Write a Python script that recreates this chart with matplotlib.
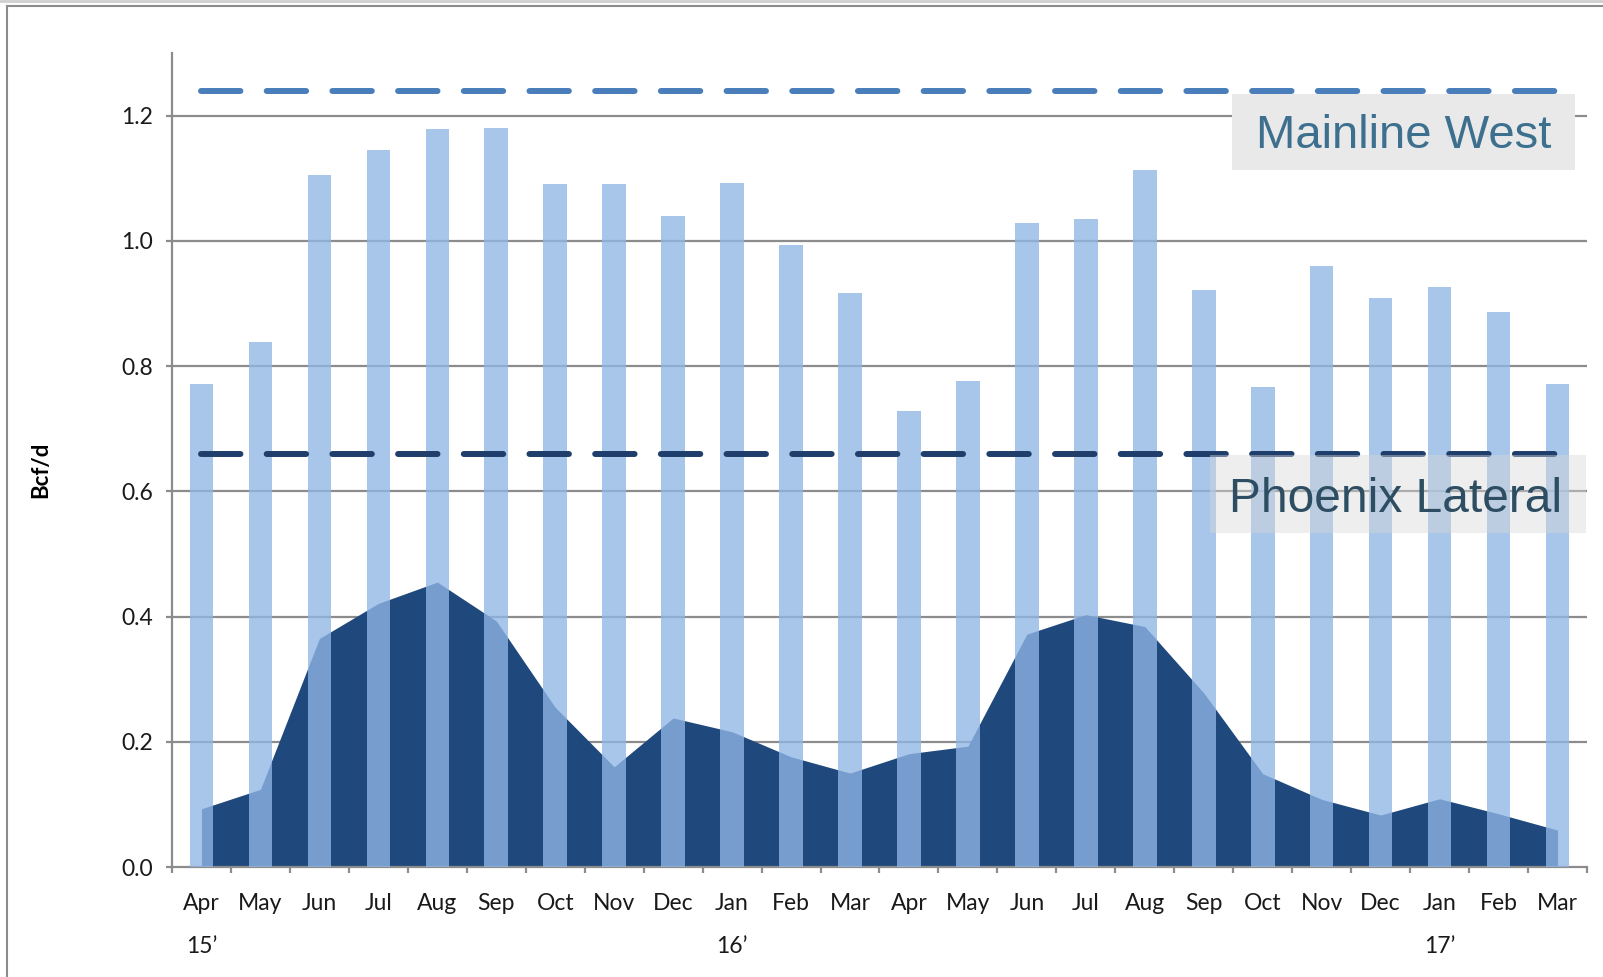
import matplotlib
matplotlib.use("Agg")
import matplotlib.pyplot as plt
import numpy as np
from matplotlib.patches import Rectangle
from matplotlib.lines import Line2D

months = ["Apr", "May", "Jun", "Jul", "Aug", "Sep", "Oct", "Nov", "Dec", "Jan", "Feb", "Mar",
          "Apr", "May", "Jun", "Jul", "Aug", "Sep", "Oct", "Nov", "Dec", "Jan", "Feb", "Mar"]
year_labels = {0: "15\u2019", 9: "16\u2019", 21: "17\u2019"}
mainline_west = [0.772, 0.838, 1.105, 1.145, 1.179, 1.180, 1.091, 1.091, 1.040, 1.092, 0.993, 0.916,
                 0.728, 0.776, 1.029, 1.035, 1.113, 0.922, 0.766, 0.960, 0.909, 0.927, 0.887, 0.772]
phoenix_lateral = [0.093, 0.124, 0.365, 0.421, 0.455, 0.393, 0.255, 0.160, 0.238, 0.216, 0.176, 0.150,
                   0.181, 0.193, 0.372, 0.403, 0.384, 0.278, 0.149, 0.108, 0.083, 0.109, 0.085, 0.059]
mainline_capacity = 1.24
phoenix_capacity = 0.66

W, H = 1603, 977
fig = plt.figure(figsize=(W / 100, H / 100), dpi=100)
ax = fig.add_axes([172 / W, 1 - 867 / H, (1587 - 172) / W, (867 - 53) / H])

x = np.arange(len(months))
gray = "#8c8c8c"

# gridlines
for yv in [0.2, 0.4, 0.6, 0.8, 1.0, 1.2]:
    ax.axhline(yv, color=gray, lw=1.6, zorder=1)

# area
ax.fill_between(x, 0, phoenix_lateral, color="#1f497d", lw=0, zorder=2)
# bars
ax.bar(x, mainline_west, width=0.4, color="#90b6e5", alpha=0.78, lw=0, zorder=3)

# capacity dashed lines
lw = 4.3
ax.plot([0, 23], [mainline_capacity] * 2, color="#4a7ebb", lw=lw,
        linestyle=(0, (6.6, 4.4)), dash_capstyle="round", zorder=4)
ax.plot([0, 23], [phoenix_capacity] * 2, color="#1f3e6b", lw=lw,
        linestyle=(0, (6.6, 4.4)), dash_capstyle="round", zorder=4)

ax.set_xlim(-0.5, 23.5)
ax.set_ylim(0, 1.3)

# spines
for s in ["top", "right"]:
    ax.spines[s].set_visible(False)
for s in ["left", "bottom"]:
    ax.spines[s].set_color(gray)
    ax.spines[s].set_linewidth(1.6)

tick_font = dict(family=["Lato", "DejaVu Sans"], size=16.5, color="#1a1a1a")
ax.set_yticks([0, 0.2, 0.4, 0.6, 0.8, 1.0, 1.2])
ax.set_yticklabels([f"{v:.1f}" for v in [0, 0.2, 0.4, 0.6, 0.8, 1.0, 1.2]], **tick_font)
ax.tick_params(axis="y", direction="out", length=4.5, width=1.6, color=gray, pad=9)

ax.set_xticks(x)
ax.set_xticklabels(months, **tick_font)
ax.tick_params(axis="x", which="major", length=0, pad=19)
ax.set_xticks(np.arange(-0.5, 24, 1), minor=True)
ax.tick_params(axis="x", which="minor", direction="out", length=4.5, width=1.6, color=gray)

for i, lab in year_labels.items():
    ax.text(i, -0.127, lab, ha="center", va="center", transform=ax.transData,
            clip_on=False, **tick_font)

fig.text(41 / W, 1 - 470 / H, "Bcf/d", rotation=90, ha="center", va="center",
         fontsize=16, fontweight="bold", family=["Lato", "DejaVu Sans"], color="black")

# label boxes (pixel coordinates -> figure fraction)
def fig_rect(x0, y0, x1, y1, **kw):
    r = Rectangle((x0 / W, 1 - y1 / H), (x1 - x0) / W, (y1 - y0) / H,
                  transform=fig.transFigure, **kw)
    fig.add_artist(r)

fig_rect(1232, 94, 1575, 170, facecolor="#e9e9e9", lw=0, zorder=0.5)
fig.text((1232 + 1575) / 2 / W, 1 - 136 / H, "Mainline West", ha="center", va="center",
         fontsize=34, family=["Liberation Sans", "DejaVu Sans"], color="#3d6f8e", zorder=5)

fig_rect(1210, 455, 1586, 533, facecolor="#d8d8d8", alpha=0.43, lw=0, zorder=5)
fig.text((1210 + 1586) / 2 / W - 2 / W, 1 - 499 / H, "Phoenix Lateral", ha="center", va="center",
         fontsize=34.5, family=["Liberation Sans", "DejaVu Sans"], color="#2d4d62", zorder=6)

# outer frame
fig.add_artist(Line2D([0, 1], [1 - 1 / H, 1 - 1 / H], transform=fig.transFigure,
                      color="#cfcfcf", lw=2))
fig.add_artist(Line2D([7 / W, 1], [1 - 6 / H, 1 - 6 / H], transform=fig.transFigure,
                      color="#8c8c8c", lw=1.5))
fig.add_artist(Line2D([7 / W, 7 / W], [0, 1 - 6 / H], transform=fig.transFigure,
                      color="#8c8c8c", lw=1.5))

fig.savefig("out.png", dpi=100)
